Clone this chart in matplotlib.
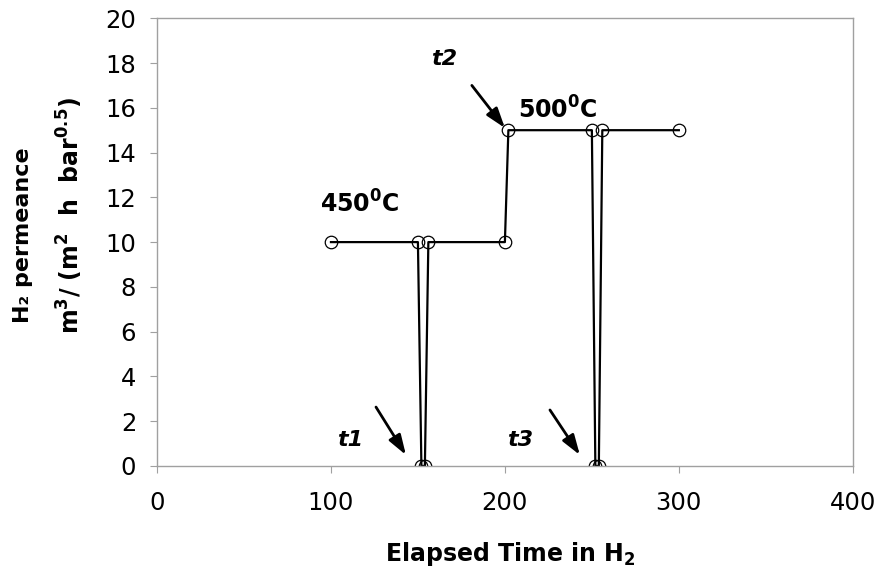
import matplotlib
matplotlib.use("Agg")
import matplotlib.pyplot as plt

# elapsed time in H2 and measured H2 permeance
time = [100, 150, 152, 154, 156, 200, 202, 250, 252, 254, 256, 300]
permeance = [10, 10, 0, 0, 10, 10, 15, 15, 0, 0, 15, 15]

plt.rcParams['font.family'] = 'DejaVu Sans'
plt.rcParams['mathtext.default'] = 'regular'

fig = plt.figure(figsize=(8.79, 5.71), dpi=100)
ax = fig.add_axes([0.1786, 0.184, 0.7916, 0.784])

ax.plot(time, permeance, color='black', linewidth=1.6,
        marker='o', markersize=9, markerfacecolor='none',
        markeredgecolor='black', markeredgewidth=0.9)

ax.set_xlim(0, 400)
ax.set_ylim(0, 20)
ax.set_xticks(range(0, 401, 100))
ax.set_yticks(range(0, 21, 2))
for s in ax.spines.values():
    s.set_color('#a0a0a0')
    s.set_linewidth(1.0)
ax.tick_params(direction='out', length=5, color='#a0a0a0', labelsize=17.5)
ax.tick_params(axis='x', pad=13)
ax.tick_params(axis='y', pad=10)

# axis titles
fig.text(0.58, 1 - 554 / 571, 'Elapsed Time in H$_2$', fontsize=17,
         fontweight='bold', ha='center', va='center')
fig.text(0.026, 0.588, 'H\u2082 permeance', fontsize=16, fontweight='bold',
         rotation=90, ha='center', va='center')
fig.text(0.079, 0.622, 'm$^3$/ (m$^2$  h  bar$^{0.5}$)', fontsize=17,
         fontweight='bold', rotation=90, ha='center', va='center')

ax.text(116.5, 11.7, '450$^0$C', fontsize=17, fontweight='bold', ha='center', va='center')
ax.text(230.5, 15.9, '500$^0$C', fontsize=17, fontweight='bold', ha='center', va='center')

# event markers and their arrows
for label, pos in [('t1', (111, 1.15)), ('t3', (208.5, 1.15)), ('t2', (165, 18.2))]:
    ax.text(pos[0], pos[1], label, fontsize=16, fontweight='bold',
            fontstyle='italic', ha='center', va='center')

arrow = dict(arrowstyle='-|>,head_length=0.6,head_width=0.2', color='black',
             lw=2, mutation_scale=20, shrinkA=0, shrinkB=0)
for start, end in [((125.9, 2.63), (143.1, 0.49)),
                   ((225.9, 2.5), (243.1, 0.49)),
                   ((181, 17.0), (200, 15.1))]:
    ax.annotate('', xy=end, xytext=start, arrowprops=arrow)

fig.savefig('out.png', dpi=100)
